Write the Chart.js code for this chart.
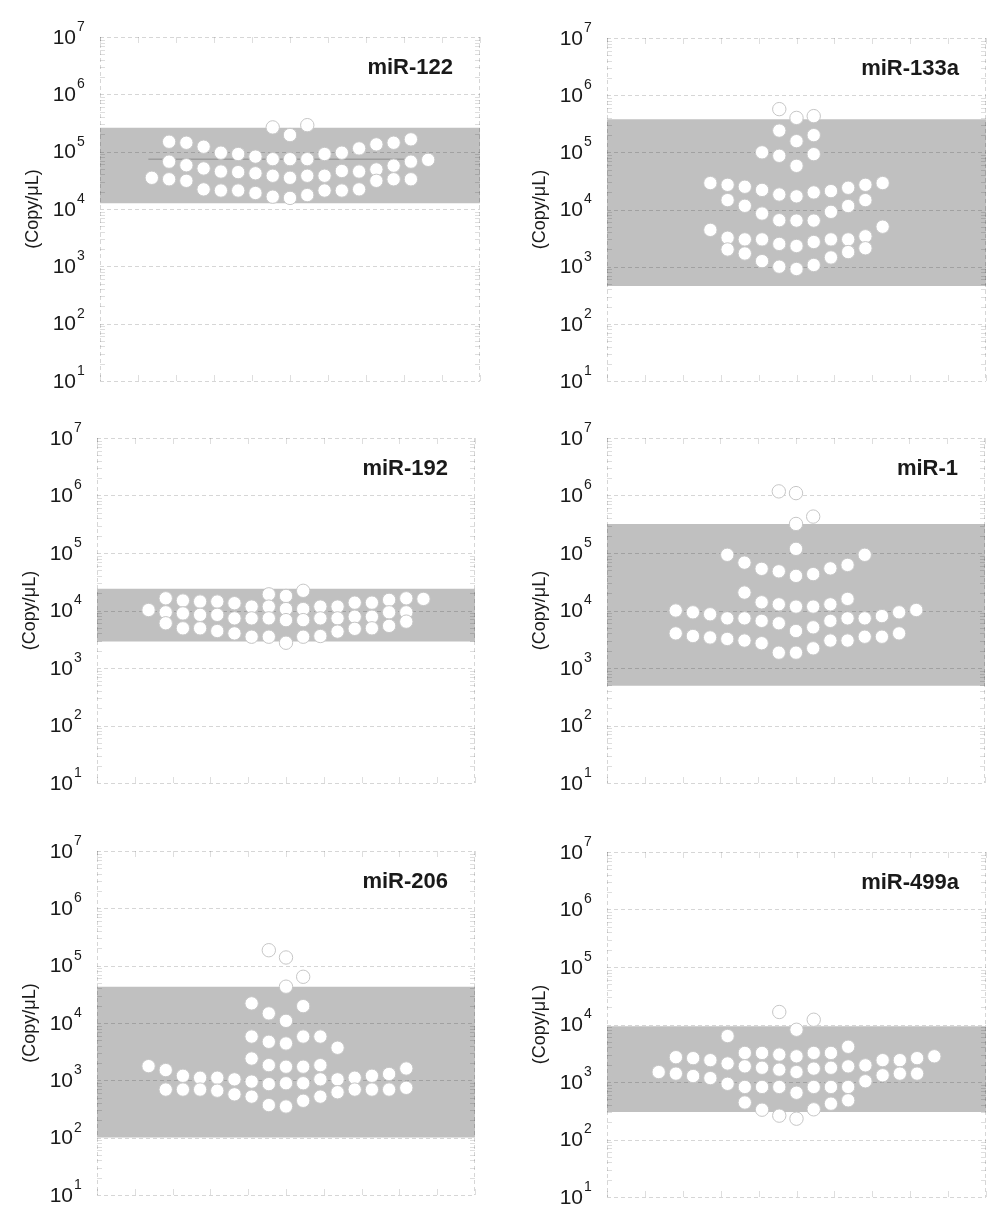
<!DOCTYPE html>
<html>
<head>
<meta charset="utf-8">
<script src="https://cdn.jsdelivr.net/npm/chart.js@4.4.0/dist/chart.umd.min.js"></script>
<style>
body { margin: 0; background: #fff; }
#page { position: relative; width: 1000px; height: 1229px; }
.panel { position: absolute; }
</style>
</head>
<body>
<div id="page"></div>
<script>
var panelNames = ['miR-122', 'miR-133a', 'miR-192', 'miR-1', 'miR-206', 'miR-499a'];
var bandLow = [1.26e4, 4.6e2, 2.9e3, 4.9e2, 1.01e2, 3.0e2];
var bandHigh = [2.6e5, 3.8e5, 2.4e4, 3.2e5, 4.3e4, 9.3e3];
var medianValues = [7.4e4, null, null, null, null, null];
var yTickExps = [1, 2, 3, 4, 5, 6, 7];
var xMin = -11, xMax = 11;

// [column, [values in copy/uL]]
var mir122 = [
    [-8, [3.5e4]],
    [-7, [1.49e5, 6.7e4, 3.3e4]],
    [-6, [1.43e5, 5.8e4, 3.1e4]],
    [-5, [1.22e5, 5.1e4, 2.2e4]],
    [-4, [9.6e4, 4.5e4, 2.1e4]],
    [-3, [9.1e4, 4.4e4, 2.1e4]],
    [-2, [8.2e4, 4.2e4, 1.9e4]],
    [-1, [2.65e5, 7.4e4, 3.8e4, 1.64e4]],
    [0, [1.95e5, 7.4e4, 3.5e4, 1.56e4]],
    [1, [2.9e5, 7.4e4, 3.8e4, 1.75e4]],
    [2, [9.1e4, 3.8e4, 2.1e4]],
    [3, [9.6e4, 4.6e4, 2.1e4]],
    [4, [1.14e5, 4.5e4, 2.2e4]],
    [5, [1.34e5, 4.9e4, 3.1e4]],
    [6, [1.43e5, 5.7e4, 3.3e4]],
    [7, [1.64e5, 6.7e4, 3.3e4]],
    [8, [7.2e4]]
];
var mir133a = [
    [-5, [2.9e4, 4.4e3]],
    [-4, [2.7e4, 1.46e4, 3.2e3, 2.0e3]],
    [-3, [2.5e4, 1.16e4, 3.0e3, 1.7e3]],
    [-2, [1.0e5, 2.2e4, 8.5e3, 3.0e3, 1.25e3]],
    [-1, [5.7e5, 2.4e5, 8.7e4, 1.83e4, 6.5e3, 2.5e3, 1.0e3]],
    [0, [4.0e5, 1.57e5, 5.8e4, 1.7e4, 6.4e3, 2.3e3, 9.1e2]],
    [1, [4.3e5, 2.0e5, 9.3e4, 1.99e4, 6.4e3, 2.7e3, 1.07e3]],
    [2, [2.1e4, 9.1e3, 3.0e3, 1.45e3]],
    [3, [2.4e4, 1.15e4, 3.0e3, 1.8e3]],
    [4, [2.7e4, 1.46e4, 3.4e3, 2.1e3]],
    [5, [2.9e4, 5.0e3]]
];
var mir192 = [
    [-8, [1.02e4]],
    [-7, [1.63e4, 9.3e3, 6.0e3]],
    [-6, [1.49e4, 8.9e3, 4.9e3]],
    [-5, [1.43e4, 8.4e3, 4.9e3]],
    [-4, [1.43e4, 8.4e3, 4.4e3]],
    [-3, [1.34e4, 7.3e3, 4.0e3]],
    [-2, [1.17e4, 7.3e3, 3.5e3]],
    [-1, [1.91e4, 1.17e4, 7.3e3, 3.5e3]],
    [0, [1.79e4, 1.06e4, 6.8e3, 2.75e3]],
    [1, [2.2e4, 1.06e4, 6.8e3, 3.5e3]],
    [2, [1.17e4, 7.3e3, 3.6e3]],
    [3, [1.17e4, 7.3e3, 4.3e3]],
    [4, [1.37e4, 7.8e3, 4.8e3]],
    [5, [1.37e4, 7.8e3, 4.9e3]],
    [6, [1.53e4, 9.3e3, 5.4e3]],
    [7, [1.63e4, 9.3e3, 6.4e3]],
    [8, [1.59e4]]
];
var mir1 = [
    [-7, [1.0e4, 4.0e3]],
    [-6, [9.3e3, 3.6e3]],
    [-5, [8.6e3, 3.4e3]],
    [-4, [9.3e4, 7.3e3, 3.2e3]],
    [-3, [6.8e4, 2.05e4, 7.3e3, 3.0e3]],
    [-2, [5.3e4, 1.39e4, 6.6e3, 2.7e3]],
    [-1, [1.18e6, 4.8e4, 1.28e4, 6.0e3, 1.85e3]],
    [0, [1.1e6, 3.2e5, 1.18e5, 4.0e4, 1.17e4, 4.4e3, 1.85e3]],
    [1, [4.3e5, 4.3e4, 1.17e4, 5.1e3, 2.2e3]],
    [2, [5.4e4, 1.28e4, 6.6e3, 3.0e3]],
    [3, [6.2e4, 1.59e4, 7.3e3, 3.0e3]],
    [4, [9.3e4, 7.3e3, 3.5e3]],
    [5, [8.0e3, 3.5e3]],
    [6, [9.3e3, 4.0e3]],
    [7, [1.02e4]]
];
var mir206 = [
    [-8, [1.77e3]],
    [-7, [1.51e3, 6.9e2]],
    [-6, [1.2e3, 6.9e2]],
    [-5, [1.11e3, 6.9e2]],
    [-4, [1.11e3, 6.6e2]],
    [-3, [1.04e3, 5.7e2]],
    [-2, [2.2e4, 5.8e3, 2.4e3, 9.5e2, 5.2e2]],
    [-1, [1.86e5, 1.47e4, 4.7e3, 1.84e3, 8.6e2, 3.7e2]],
    [0, [1.39e5, 4.3e4, 1.09e4, 4.4e3, 1.73e3, 8.9e2, 3.5e2]],
    [1, [6.4e4, 1.97e4, 5.8e3, 1.73e3, 8.9e2, 4.4e2]],
    [2, [5.8e3, 1.84e3, 1.04e3, 5.2e2]],
    [3, [3.7e3, 1.04e3, 6.2e2]],
    [4, [1.11e3, 6.9e2]],
    [5, [1.2e3, 6.9e2]],
    [6, [1.29e3, 6.9e2]],
    [7, [1.61e3, 7.4e2]]
];
var mir499a = [
    [-8, [1.49e3]],
    [-7, [2.7e3, 1.4e3]],
    [-6, [2.6e3, 1.27e3]],
    [-5, [2.4e3, 1.17e3]],
    [-4, [6.3e3, 2.1e3, 9.3e2]],
    [-3, [3.2e3, 1.87e3, 8.2e2, 4.4e2]],
    [-2, [3.2e3, 1.77e3, 8.2e2, 3.3e2]],
    [-1, [1.65e4, 3.0e3, 1.64e3, 8.2e2, 2.6e2]],
    [0, [8.1e3, 2.8e3, 1.49e3, 6.5e2, 2.3e2]],
    [1, [1.21e4, 3.2e3, 1.71e3, 8.2e2, 3.35e2]],
    [2, [3.2e3, 1.77e3, 8.2e2, 4.2e2]],
    [3, [4.1e3, 1.87e3, 8.2e2, 4.8e2]],
    [4, [1.95e3, 1.03e3]],
    [5, [2.4e3, 1.31e3]],
    [6, [2.4e3, 1.4e3]],
    [7, [2.6e3, 1.4e3]],
    [8, [2.8e3]]
];
var panelData = [mir122, mir133a, mir192, mir1, mir206, mir499a];
var medianFrom = -8.2, medianTo = 6.9;

// plot area of each panel on the page (left, top, right, bottom)
var boxes = [
    [100, 37, 480, 381],
    [607, 38, 986, 381],
    [97, 438, 475, 783],
    [607, 438, 985, 783],
    [97, 851, 475, 1195],
    [607, 852, 986, 1197]
];

var FONT = '"Liberation Sans", Arial, sans-serif';

var framePlugin = {
    id: 'frame',
    beforeDatasetDraw: function (chart, args) {
        if (args.index !== 0)
            return;
        var ctx = chart.ctx, a = chart.chartArea;
        var xs = chart.scales.x, ys = chart.scales.y;
        ctx.save();
        ctx.lineWidth = 1;
        ctx.strokeStyle = 'rgba(0,0,0,0.16)';
        ctx.setLineDash([4, 3]);
        for (var i = 0; i < yTickExps.length; i++) {
            var py = Math.round(ys.getPixelForValue(Math.pow(10, yTickExps[i]))) + 0.5;
            ctx.beginPath();
            ctx.moveTo(a.left, py);
            ctx.lineTo(a.right, py);
            ctx.stroke();
        }
        ctx.beginPath();
        ctx.moveTo(Math.round(a.left) + 0.5, a.top);
        ctx.lineTo(Math.round(a.left) + 0.5, a.bottom);
        ctx.moveTo(Math.round(a.right) - 0.5, a.top);
        ctx.lineTo(Math.round(a.right) - 0.5, a.bottom);
        ctx.stroke();
        ctx.setLineDash([]);

        // minor ticks on the left and right edges
        ctx.strokeStyle = 'rgba(0,0,0,0.13)';
        ctx.beginPath();
        for (var e = 1; e < 7; e++) {
            for (var m = 2; m < 10; m++) {
                var my = Math.round(ys.getPixelForValue(m * Math.pow(10, e))) + 0.5;
                ctx.moveTo(a.left, my);
                ctx.lineTo(a.left + 5, my);
                ctx.moveTo(a.right - 5, my);
                ctx.lineTo(a.right, my);
            }
        }
        // x ticks at top and bottom
        for (var k = 0; k <= 10; k++) {
            var px = Math.round(xs.getPixelForValue(xMin + k * (xMax - xMin) / 10)) + 0.5;
            ctx.moveTo(px, a.top);
            ctx.lineTo(px, a.top + 6);
            ctx.moveTo(px, a.bottom);
            ctx.lineTo(px, a.bottom - 6);
        }
        ctx.stroke();
        ctx.restore();
    },
    afterDraw: function (chart, args, opts) {
        var ctx = chart.ctx, a = chart.chartArea, ys = chart.scales.y;
        ctx.save();
        ctx.fillStyle = '#1a1a1a';
        ctx.textBaseline = 'middle';
        for (var i = 0; i < yTickExps.length; i++) {
            var py = ys.getPixelForValue(Math.pow(10, yTickExps[i]));
            ctx.font = '21px ' + FONT;
            ctx.textAlign = 'right';
            ctx.fillText('10', a.left - 24, py + 1);
            ctx.font = '14px ' + FONT;
            ctx.textAlign = 'left';
            ctx.fillText(String(yTickExps[i]), a.left - 23, py - 10);
        }

        ctx.save();
        ctx.translate(a.left - 67, (a.top + a.bottom) / 2);
        ctx.rotate(-Math.PI / 2);
        ctx.textAlign = 'center';
        ctx.font = '18px ' + FONT;
        ctx.fillText('(Copy/\u03bcL)', 0, 0);
        ctx.restore();

        ctx.font = 'bold 22px ' + FONT;
        ctx.textAlign = 'right';
        ctx.fillText(opts.name, a.right - 27, a.top + 31);
        ctx.restore();
    }
};

function setupPanel(i) {
    var box = boxes[i];
    var div = document.createElement('div');
    div.className = 'panel';
    div.style.left = (box[0] - 100) + 'px';
    div.style.top = (box[1] - 40) + 'px';
    div.style.width = (box[2] - box[0] + 110) + 'px';
    div.style.height = (box[3] - box[1] + 60) + 'px';
    var canvas = document.createElement('canvas');
    div.appendChild(canvas);
    document.getElementById('page').appendChild(div);

    var points = [];
    var cols = panelData[i];
    for (var c = 0; c < cols.length; c++) {
        for (var v = 0; v < cols[c][1].length; v++) {
            points.push({ x: cols[c][0], y: cols[c][1][v] });
        }
    }

    var datasets = [{
        label: panelNames[i],
        data: points,
        showLine: false,
        pointRadius: 6.7,
        pointBackgroundColor: '#ffffff',
        pointBorderColor: '#c6c6c6',
        pointBorderWidth: 1
    }];
    if (medianValues[i] != null) {
        datasets.push({
            label: 'median',
            data: [{ x: medianFrom, y: medianValues[i] }, { x: medianTo, y: medianValues[i] }],
            borderColor: '#8c8c8c',
            borderWidth: 1,
            pointRadius: 0,
            fill: false
        });
    }
    datasets.push({
        label: 'range',
        data: [{ x: xMin, y: bandHigh[i] }, { x: xMax, y: bandHigh[i] }],
        borderWidth: 0,
        borderColor: 'rgba(0,0,0,0)',
        backgroundColor: '#c0c0c0',
        pointRadius: 0,
        fill: { value: bandLow[i] }
    });

    var config = {
        type: 'line',
        data: { datasets: datasets },
        plugins: [framePlugin],
        options: {
            responsive: true,
            maintainAspectRatio: false,
            animation: false,
            events: [],
            layout: { padding: { left: 100, right: 10, top: 40, bottom: 20 } },
            scales: {
                x: { type: 'linear', min: xMin, max: xMax, display: false },
                y: { type: 'logarithmic', min: 10, max: 1e7, display: false }
            },
            plugins: {
                legend: { display: false },
                tooltip: { enabled: false },
                frame: { name: panelNames[i] }
            }
        }
    };
    new Chart(canvas.getContext('2d'), config);
}

for (var p = 0; p < panelNames.length; p++)
    setupPanel(p);
</script>
</body>
</html>
